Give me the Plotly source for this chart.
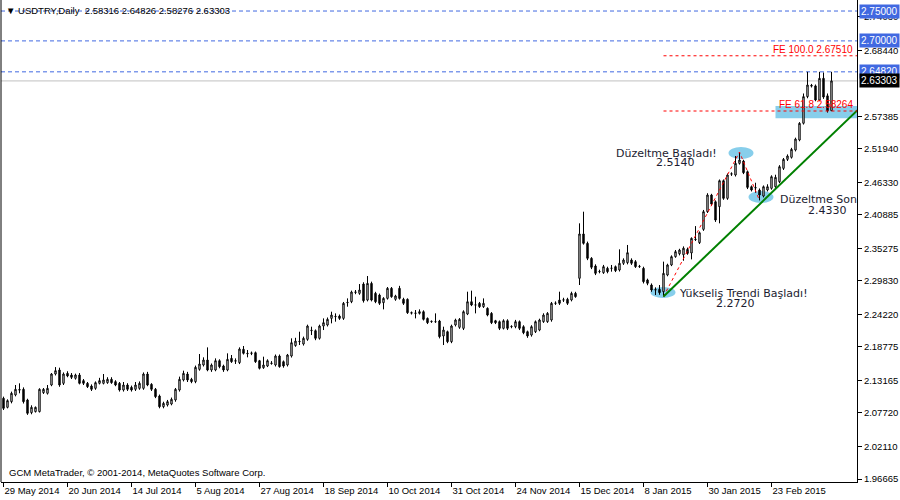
import plotly.graph_objects as go

# ---------------------------------------------------------------
# USDTRY daily bars, index 0 = 29 May 2014
# ---------------------------------------------------------------
opens = [
    2.1017, 2.0866, 2.0961, 2.1073, 2.1163, 2.1168, 2.0989, 2.0777, 2.0794, 2.0794,
    2.1112, 2.1101, 2.1240, 2.1424, 2.1491, 2.1268, 2.1435, 2.1407, 2.1352, 2.1407,
    2.1313, 2.1268, 2.1223, 2.1184, 2.1268, 2.1268, 2.1279, 2.1335, 2.1296, 2.1268,
    2.1156, 2.1240, 2.1201, 2.1168, 2.1184, 2.1184, 2.1424, 2.1251, 2.1168, 2.1056,
    2.0877, 2.0905, 2.0922, 2.0989, 2.1156, 2.1324, 2.1424, 2.1335, 2.1296, 2.1502,
    2.1575, 2.1658, 2.1491, 2.1491, 2.1647, 2.1558, 2.1491, 2.1686, 2.1647, 2.1614,
    2.1837, 2.1770, 2.1770, 2.1781, 2.1647, 2.1530, 2.1558, 2.1600, 2.1575, 2.1725,
    2.1630, 2.1575, 2.1725, 2.1900, 2.1965, 2.1926, 2.2004, 2.2149, 2.2149, 2.2021,
    2.2227, 2.2244, 2.2355, 2.2383, 2.2394, 2.2355, 2.2618, 2.2634, 2.2790, 2.2774,
    2.2930, 2.2662, 2.2941, 2.2774, 2.2746, 2.2618, 2.2690, 2.2858, 2.2674, 2.2858,
    2.2674, 2.2674, 2.2450, 2.2439, 2.2439, 2.2467, 2.2355, 2.2300, 2.2300, 2.2311,
    2.2060, 2.2132, 2.1965, 2.2244, 2.2205, 2.2188, 2.2428, 2.2634, 2.2579, 2.2607,
    2.2551, 2.2523, 2.2439, 2.2316, 2.2300, 2.2188, 2.2316, 2.2216, 2.2216, 2.2300,
    2.2216, 2.2132, 2.2076, 2.2132, 2.2160, 2.2300, 2.2300, 2.2328, 2.2607, 2.2662,
    2.2662, 2.2674, 2.2663, 2.2774, 2.3026, 2.3768, 2.3611, 2.3360, 2.3232, 2.3137,
    2.3120, 2.3193, 2.3193, 2.3221, 2.3165, 2.3277, 2.3288, 2.3332, 2.3304, 2.3221,
    2.3193, 2.2998, 2.2914, 2.2830, 2.2841, 2.2802, 2.3081, 2.3249, 2.3388, 2.3437,
    2.3420, 2.3510, 2.3450, 2.3680, 2.3622, 2.3845, 2.4141, 2.4420, 2.4308, 2.4225,
    2.4660, 2.4364, 2.4770, 2.4755, 2.4950, 2.4989, 2.4810, 2.4559, 2.4545, 2.4504,
    2.4403, 2.4504, 2.4532, 2.4559, 2.4643, 2.4866, 2.5017, 2.5051, 2.5173, 2.5341,
    2.5621, 2.6067, 2.6255, 2.6247, 2.6010, 2.6373, 2.6080, 2.58316,
]
highs = [
    2.1045, 2.1000, 2.1129, 2.1240, 2.1268, 2.1200, 2.1010, 2.0900, 2.0880, 2.1185,
    2.1190, 2.1240, 2.1440, 2.1540, 2.1530, 2.1450, 2.1470, 2.1440, 2.1430, 2.1440,
    2.1340, 2.1290, 2.1250, 2.1300, 2.1360, 2.1424, 2.1370, 2.1370, 2.1320, 2.1290,
    2.1290, 2.1270, 2.1230, 2.1290, 2.1300, 2.1450, 2.1460, 2.1270, 2.1190, 2.1080,
    2.0960, 2.0990, 2.1030, 2.1190, 2.1380, 2.1480, 2.1460, 2.1360, 2.1565, 2.1759,
    2.1703, 2.1870, 2.1600, 2.1686, 2.1670, 2.1580, 2.1770, 2.1742, 2.1686, 2.1870,
    2.1893, 2.1826, 2.1800, 2.1800, 2.1660, 2.1714, 2.1670, 2.1640, 2.1750, 2.1750,
    2.1650, 2.1760, 2.2021, 2.2030, 2.2132, 2.2050, 2.2250, 2.2216, 2.2170, 2.2250,
    2.2355, 2.2370, 2.2467, 2.2439, 2.2420, 2.2630, 2.2690, 2.2820, 2.2830, 2.2930,
    2.2960, 2.3064, 2.2970, 2.2800, 2.2770, 2.2710, 2.2880, 2.2880, 2.2750, 2.2900,
    2.2700, 2.2690, 2.2470, 2.2495, 2.2506, 2.2490, 2.2370, 2.2320, 2.2439, 2.2330,
    2.2216, 2.2150, 2.2250, 2.2350, 2.2360, 2.2490, 2.2802, 2.2819, 2.2718, 2.2630,
    2.2690, 2.2540, 2.2460, 2.2330, 2.2320, 2.2340, 2.2340, 2.2240, 2.2330, 2.2320,
    2.2240, 2.2150, 2.2240, 2.2320, 2.2350, 2.2440, 2.2460, 2.2630, 2.2640, 2.2802,
    2.2700, 2.2700, 2.2802, 2.2800, 2.3946, 2.4141, 2.3640, 2.3380, 2.3260, 2.3170,
    2.3250, 2.3220, 2.3249, 2.3240, 2.3511, 2.3360, 2.3584, 2.3360, 2.3330, 2.3250,
    2.3220, 2.3020, 2.2940, 2.2875, 2.2914, 2.3305, 2.3270, 2.3410, 2.3500, 2.3520,
    2.3560, 2.3540, 2.3711, 2.3900, 2.3810, 2.4170, 2.4450, 2.4440, 2.4330, 2.4680,
    2.4680, 2.4780, 2.4800, 2.5073, 2.5140, 2.5010, 2.4830, 2.4580, 2.4626, 2.4530,
    2.4580, 2.4600, 2.4750, 2.4760, 2.4920, 2.5040, 2.5100, 2.5210, 2.5380, 2.5640,
    2.6120, 2.6482, 2.6280, 2.6270, 2.6482, 2.6470, 2.6120, 2.64826,
]
lows = [
    2.0821, 2.0849, 2.0933, 2.1050, 2.1101, 2.0930, 2.0740, 2.0750, 2.0780, 2.0780,
    2.1090, 2.1080, 2.1220, 2.1400, 2.1210, 2.1240, 2.1370, 2.1340, 2.1330, 2.1250,
    2.1240, 2.1190, 2.1140, 2.1160, 2.1250, 2.1250, 2.1260, 2.1260, 2.1220, 2.1130,
    2.1130, 2.1140, 2.1130, 2.1140, 2.1160, 2.1160, 2.1220, 2.1140, 2.1020, 2.0850,
    2.0850, 2.0880, 2.0900, 2.0960, 2.1130, 2.1300, 2.1290, 2.1270, 2.1270, 2.1480,
    2.1550, 2.1470, 2.1460, 2.1470, 2.1520, 2.1460, 2.1470, 2.1610, 2.1592, 2.1590,
    2.1750, 2.1703, 2.1740, 2.1610, 2.1500, 2.1510, 2.1540, 2.1580, 2.1550, 2.1530,
    2.1530, 2.1550, 2.1700, 2.1880, 2.1909, 2.1900, 2.1980, 2.2076, 2.1990, 2.2000,
    2.2160, 2.2220, 2.2272, 2.2300, 2.2330, 2.2330, 2.2551, 2.2610, 2.2760, 2.2750,
    2.2620, 2.2640, 2.2640, 2.2610, 2.2580, 2.2506, 2.2670, 2.2700, 2.2650, 2.2670,
    2.2580, 2.2430, 2.2420, 2.2355, 2.2420, 2.2320, 2.2260, 2.2280, 2.2280, 2.2020,
    2.1909, 2.1940, 2.1940, 2.2220, 2.2180, 2.2160, 2.2410, 2.2560, 2.2439, 2.2530,
    2.2530, 2.2390, 2.2260, 2.2260, 2.2160, 2.2170, 2.2160, 2.2190, 2.2190, 2.2160,
    2.2090, 2.2030, 2.2050, 2.2110, 2.2140, 2.2280, 2.2280, 2.2300, 2.2580, 2.2580,
    2.2630, 2.2580, 2.2640, 2.2700, 2.2914, 2.3590, 2.3330, 2.3180, 2.3080, 2.3110,
    2.3100, 2.3110, 2.3137, 2.3130, 2.3140, 2.3250, 2.3260, 2.3250, 2.3200, 2.3200,
    2.2940, 2.2910, 2.2800, 2.2746, 2.2750, 2.2720, 2.3060, 2.3230, 2.3370, 2.3410,
    2.3320, 2.3420, 2.3343, 2.3650, 2.3600, 2.3820, 2.4120, 2.4240, 2.3970, 2.3946,
    2.4340, 2.4340, 2.4740, 2.4730, 2.4930, 2.4770, 2.4520, 2.4480, 2.4459, 2.4330,
    2.4380, 2.4480, 2.4510, 2.4540, 2.4620, 2.4840, 2.4990, 2.5030, 2.5150, 2.5320,
    2.5600, 2.6040, 2.6220, 2.5990, 2.5990, 2.6030, 2.5800, 2.58276,
]
closes = [
    2.0849, 2.0978, 2.1101, 2.1168, 2.1156, 2.0961, 2.0766, 2.0866, 2.0866, 2.1168,
    2.1168, 2.1184, 2.1424, 2.1480, 2.1240, 2.1424, 2.1391, 2.1368, 2.1407, 2.1268,
    2.1268, 2.1212, 2.1168, 2.1279, 2.1313, 2.1324, 2.1335, 2.1279, 2.1240, 2.1156,
    2.1240, 2.1168, 2.1156, 2.1240, 2.1268, 2.1424, 2.1240, 2.1168, 2.1045, 2.0877,
    2.0933, 2.0961, 2.1000, 2.1168, 2.1335, 2.1435, 2.1324, 2.1296, 2.1536, 2.1591,
    2.1658, 2.1491, 2.1575, 2.1647, 2.1547, 2.1491, 2.1669, 2.1630, 2.1640, 2.1842,
    2.1770, 2.1765, 2.1775, 2.1630, 2.1519, 2.1575, 2.1647, 2.1605, 2.1725, 2.1547,
    2.1558, 2.1742, 2.1948, 2.1975, 2.1970, 2.2021, 2.2227, 2.2155, 2.2021, 2.2227,
    2.2283, 2.2339, 2.2411, 2.2388, 2.2355, 2.2607, 2.2622, 2.2796, 2.2796, 2.2830,
    2.2651, 2.2941, 2.2662, 2.2634, 2.2607, 2.2690, 2.2858, 2.2718, 2.2730, 2.2690,
    2.2607, 2.2450, 2.2444, 2.2444, 2.2467, 2.2339, 2.2283, 2.2305, 2.2300, 2.2049,
    2.2160, 2.1965, 2.2227, 2.2328, 2.2339, 2.2467, 2.2634, 2.2579, 2.2580, 2.2551,
    2.2607, 2.2411, 2.2283, 2.2283, 2.2188, 2.2316, 2.2188, 2.2220, 2.2300, 2.2188,
    2.2115, 2.2060, 2.2216, 2.2300, 2.2328, 2.2411, 2.2439, 2.2607, 2.2610, 2.2607,
    2.2665, 2.2607, 2.2774, 2.2719, 2.3768, 2.3611, 2.3360, 2.3210, 2.3109, 2.3140,
    2.3221, 2.3137, 2.3195, 2.3154, 2.3277, 2.3332, 2.3455, 2.3277, 2.3221, 2.3225,
    2.2970, 2.2942, 2.2830, 2.2835, 2.2786, 2.3109, 2.3249, 2.3388, 2.3472, 2.3499,
    2.3530, 2.3443, 2.3695, 2.3676, 2.3789, 2.4141, 2.4420, 2.4269, 2.4001, 2.4660,
    2.4364, 2.4755, 2.4775, 2.4950, 2.5006, 2.4794, 2.4548, 2.4504, 2.4540, 2.4420,
    2.4559, 2.4559, 2.4727, 2.4716, 2.4894, 2.5017, 2.5073, 2.5184, 2.5357, 2.5620,
    2.6067, 2.6262, 2.6245, 2.6010, 2.6373, 2.6060, 2.5830, 2.63303,
]
bar_idx = list(range(len(closes)))

# x-axis labels (one every 16 bars)
date_tick_idx = [0, 16, 32, 48, 64, 80, 96, 112, 128, 144, 160, 176, 192]
date_labels = ["29 May 2014", "20 Jun 2014", "14 Jul 2014", "5 Aug 2014", "27 Aug 2014",
               "18 Sep 2014", "10 Oct 2014", "31 Oct 2014", "24 Nov 2014", "15 Dec 2014",
               "8 Jan 2015", "30 Jan 2015", "23 Feb 2015"]

price_ticks = [2.74030, 2.68440, 2.57385, 2.51940, 2.46330, 2.40885, 2.35275,
               2.29830, 2.24220, 2.18775, 2.13165, 2.07720, 2.02110, 1.96665]

# chart objects
level_lines = [2.75, 2.70, 2.6482]     # blue dashed horizontal lines
bid_price = 2.63303
fe_levels = [2.67510, 2.58264]
fe_texts = ["FE 100.0 2.67510", "FE 61.8 2.58264"]
fe_start = 165

trend_x = [165, 213.5]
trend_y = [2.2720, 2.5840]

wave_x = [165, 184, 189]
wave_y = [2.2720, 2.5140, 2.4330]

# ellipses around the wave points: (x0, x1, y0, y1)
ellipses = [(161.75, 168.0, 2.2697, 2.2881),
            (181.25, 187.5, 2.5023, 2.5224),
            (186.25, 192.5, 2.4286, 2.4487)]
zone = (193.0, 213.5, 2.5705, 2.5910)

Y_MIN, Y_MAX = 1.96163, 2.76846
# 4 px per bar; bar centres land on half pixels so the 1px outlines stay sharp
X_MIN, X_MAX = -0.625, 213.375

FONT = "Liberation Sans"
NOTE_FONT = "DejaVu Sans"

fig = go.Figure()

fig.add_trace(go.Candlestick(
    x=bar_idx, open=opens, high=highs, low=lows, close=closes,
    increasing=dict(line=dict(color="black", width=1), fillcolor="white"),
    decreasing=dict(line=dict(color="black", width=1), fillcolor="black"),
    whiskerwidth=0, hoverinfo="skip",
))

# red dotted wave + green trend line
fig.add_trace(go.Scatter(x=wave_x, y=wave_y, mode="lines",
                         line=dict(color="red", width=1, dash="dot"), hoverinfo="skip"))
fig.add_trace(go.Scatter(x=trend_x, y=trend_y, mode="lines",
                         line=dict(color="#008000", width=2), hoverinfo="skip"))

# FE lines
for lvl in fe_levels:
    fig.add_trace(go.Scatter(x=[fe_start, X_MAX], y=[lvl, lvl], mode="lines",
                             line=dict(color="red", width=1, dash="3px,3px"), hoverinfo="skip"))

shapes = []
for lvl in level_lines:
    shapes.append(dict(type="line", xref="paper", x0=0, x1=1, yref="y", y0=lvl, y1=lvl,
                       line=dict(color="#4169E1", width=1, dash="4px,3px"), layer="below"))
shapes.append(dict(type="line", xref="paper", x0=0, x1=1, yref="y", y0=bid_price, y1=bid_price,
                   line=dict(color="#C0C0C0", width=1), layer="below"))
for x0, x1, y0, y1 in ellipses:
    shapes.append(dict(type="circle", xref="x", yref="y", x0=x0, x1=x1, y0=y0, y1=y1,
                       fillcolor="#87CEEB", line=dict(width=0), layer="below"))
shapes.append(dict(type="rect", xref="x", yref="y", x0=zone[0], x1=zone[1], y0=zone[2], y1=zone[3],
                   fillcolor="#87CEEB", line=dict(width=0), layer="below"))
# left frame line
shapes.append(dict(type="line", xref="paper", yref="paper", x0=0, x1=0, y0=0, y1=1,
                   line=dict(color="black", width=1)))

annotations = []
note_color = "#1c1c30"
notes = [
    ("Düzeltme Başladı!", 178.8, 2.5118, "right"),
    ("2.5140", 168.0, 2.4964, "center"),
    ("Düzeltme Son", 193.6, 2.4345, "left"),
    ("2.4330", 205.9, 2.4161, "center"),
    ("Yükseliş Trendi Başladı!", 168.3, 2.2772, "left"),
    ("2.2720", 183.0, 2.2596, "center"),
]
for txt, x, y, anchor in notes:
    annotations.append(dict(text=txt, x=x, y=y, xref="x", yref="y", showarrow=False,
                            xanchor=anchor, yanchor="middle",
                            font=dict(family=NOTE_FONT, size=11, color=note_color)))

for txt, lvl in zip(fe_texts, fe_levels):
    annotations.append(dict(text=txt, x=X_MAX - 0.5, y=lvl, xref="x", yref="y", showarrow=False,
                            xanchor="right", yanchor="bottom", yshift=-1,
                            font=dict(family=FONT, size=10, color="red")))

# price boxes on the right scale
for lvl, bg in [(2.75, "#4169E1"), (2.70, "#4169E1"), (2.6482, "#4169E1"), (bid_price, "black")]:
    annotations.append(dict(text=f"{lvl:.5f}", x=1, y=lvl, xref="paper", yref="y", showarrow=False,
                            xanchor="left", yanchor="middle", xshift=2, bgcolor=bg, borderpad=1,
                            font=dict(family=FONT, size=10, color="white")))

annotations.append(dict(text="▼ USDTRY,Daily  2.58316 2.64826 2.58276 2.63303", x=0, y=1,
                        xref="paper", yref="paper", xanchor="left", yanchor="top",
                        xshift=3, yshift=-3, showarrow=False,
                        font=dict(family=FONT, size=9.5, color="black")))
annotations.append(dict(text="GCM MetaTrader, © 2001-2014, MetaQuotes Software Corp.", x=0, y=0,
                        xref="paper", yref="paper", xanchor="left", yanchor="bottom",
                        xshift=6, yshift=2, showarrow=False,
                        font=dict(family=FONT, size=9.5, color="black")))

fig.update_layout(
    width=900, height=500,
    margin=dict(l=1, r=43, t=0, b=18),
    paper_bgcolor="white", plot_bgcolor="white",
    showlegend=False, boxgap=0.5,
    shapes=shapes, annotations=annotations,
    xaxis=dict(range=[X_MIN, X_MAX], tickvals=date_tick_idx, ticktext=date_labels,
               ticks="outside", ticklen=4, tickcolor="black", ticklabelposition="outside right",
               showline=True, linecolor="black", linewidth=1,
               showgrid=False, zeroline=False, rangeslider=dict(visible=False),
               tickfont=dict(family=FONT, size=9.5, color="black")),
    yaxis=dict(range=[Y_MIN, Y_MAX], side="right", tickvals=price_ticks,
               ticktext=[f"{v:.5f}" for v in price_ticks],
               ticks="outside", ticklen=4, tickcolor="black",
               showline=True, linecolor="black", linewidth=1,
               showgrid=False, zeroline=False,
               tickfont=dict(family=FONT, size=9.5, color="black")),
)

# the page body has an 8px default margin; drop it so the 900x500 figure fills the window
fig.write_html("out.html", config={"displayModeBar": False},
               post_script="document.body.style.margin='0';")
